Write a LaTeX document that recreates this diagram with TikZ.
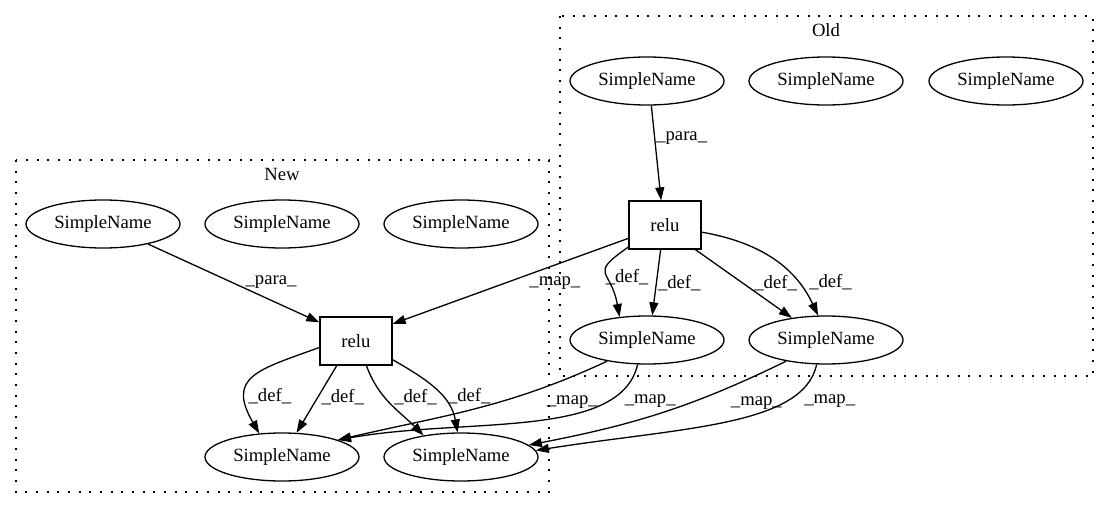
\documentclass[tikz,border=0pt]{standalone}
\usepackage{fontspec}
\setmainfont{Liberation Serif}
\usetikzlibrary{shapes.geometric,arrows.meta}
\tikzstyle{every path}=[line width=1.3pt]
\tikzstyle{sname}=[draw, ellipse, minimum width=154pt, minimum height=48pt, inner sep=0pt]
\tikzstyle{op}=[draw, rectangle, minimum width=72pt, minimum height=48pt, inner sep=0pt]
\tikzstyle{flow}=[-{Triangle[length=13pt,width=9pt]}]
\tikzstyle{lbl}=[inner sep=1pt, anchor=west]
\tikzstyle{cluster}=[dash pattern=on 2pt off 8.67pt]

\begin{document}
\begin{tikzpicture}[x=1pt, y=1pt, font=\fontsize{18.67}{22}\selectfont]
            \useasboundingbox (0,0) rectangle (1109,-508);

            % clusters
            \draw[cluster] (16,-160) rectangle (549,-492);
            \draw[cluster] (560,-16) rectangle (1093,-376);
            \node (newtitle) at (282,-174) {New};
            \node (oldtitle) at (826,-30) {Old};

            % new
            \node[sname] (nsn1) at (103,-224) {SimpleName};
            \node[sname] (nsn2) at (282,-224) {SimpleName};
            \node[sname] (nsn3) at (461,-224) {SimpleName};
            \node[op] (nrelu) at (356,-341) {relu};
            \node[sname] (nb1) at (282,-457) {SimpleName};
            \node[sname] (nb2) at (461,-457) {SimpleName};

            % old
            \node[sname] (osn1) at (647,-81) {SimpleName};
            \node[sname] (osn2) at (826,-81) {SimpleName};
            \node[sname] (osn3) at (1006,-81) {SimpleName};
            \node[op] (orelu) at (665,-225) {relu};
            \node[sname] (osb1) at (647,-340) {SimpleName};
            \node[sname] (osb2) at (826,-340) {SimpleName};

            \draw[flow] (nsn1.336) -- node[lbl, pos=0.49, xshift=12pt] (lp1) {\_para\_} (nrelu.153);
            \draw[flow] (nrelu.190) to[out=200, in=120, looseness=1.6]
                node[lbl, pos=0.72, xshift=1pt] (ld1) {\_def\_} (nb1.134);
            \draw[flow] (nrelu.232) -- node[lbl, pos=0.47, xshift=2pt] (ld2) {\_def\_} (nb1.59);
            \draw[flow] (nrelu.293) to[out=290, in=135]
                node[lbl, pos=0.4, xshift=8pt] (ld3) {\_def\_} (nb2.150);
            \draw[flow] (nrelu.333) to[out=-30, in=100]
                node[lbl, pos=0.6, xshift=5pt] (ld4) {\_def\_} (nb2.98);

            \draw[flow] (osn1.280) -- node[lbl, pos=0.34] (lp2) {\_para\_} (orelu.99);
            \draw[flow] (orelu.211) to[out=215, in=100, looseness=1.8]
                node[lbl, pos=0.55, xshift=-2pt] (ld5) {\_def\_} (osb1.140);
            \draw[flow] (orelu.260) -- node[lbl, pos=0.51] (ld6) {\_def\_} (osb1.78);
            \draw[flow] (orelu.321) -- node[lbl, pos=0.49, xshift=10pt] (ld7) {\_def\_} (osb2.147);
            \draw[flow] (orelu.349) to[out=-10, in=115]
                node[lbl, pos=0.75, xshift=10pt] (ld8) {\_def\_} (osb2.108);

            % old -> new
            \draw[flow] (orelu.200) -- node[lbl, pos=0.52, xshift=22pt] (lm1) {\_map\_} (nrelu.25);
            \draw[flow] (osb1.208) to[out=205, in=13]
                node[lbl, pos=0.4, xshift=45pt] (lm2) {\_map\_} (nb1.17);
            \draw[flow] (osb1.249) to[out=257, in=10, out looseness=0.64, in looseness=1.09]
                node[lbl, pos=0.22, xshift=15pt] (lm3) {\_map\_} (nb1.17);
            \draw[flow] (osb2.208) to[out=206, in=11]
                node[lbl, pos=0.3, xshift=21pt, yshift=-7pt] (lm4) {\_map\_} (nb2.10);
            \draw[flow] (osb2.249) to[out=258, in=9, out looseness=0.55, in looseness=1.28]
                node[lbl, pos=0.25, xshift=15pt] (lm5) {\_map\_} (nb2.5);
        \end{tikzpicture}
\end{document}
